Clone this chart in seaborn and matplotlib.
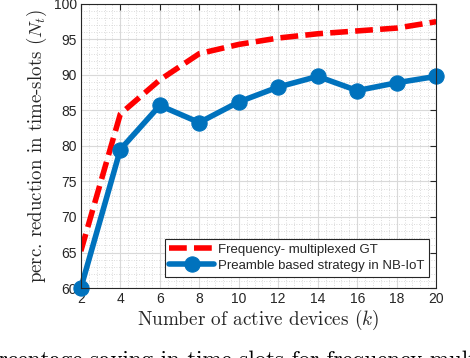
import numpy as np
import pandas as pd
import matplotlib
matplotlib.use("Agg")
import matplotlib.pyplot as plt
from matplotlib.ticker import MultipleLocator
import seaborn as sns

# values
devices = [2, 4, 6, 8, 10, 12, 14, 16, 18, 20]
freq_gt = [65.2, 84.5, 89.3, 93.0, 94.3, 95.2, 95.8, 96.2, 96.6, 97.5]
preamble = [60.0, 79.5, 85.7, 83.3, 86.2, 88.3, 89.8, 87.8, 88.9, 89.8]
series_names = ["Frequency- multiplexed GT", "Preamble based strategy in NB-IoT"]

df = pd.DataFrame({
    "k": devices * 2,
    "value": freq_gt + preamble,
    "series": [series_names[0]] * len(devices) + [series_names[1]] * len(devices),
})

sns.set_style("white")
plt.rcParams["font.family"] = ["Liberation Sans", "DejaVu Sans"]
plt.rcParams["mathtext.fontset"] = "cm"

red = "#ff0000"
blue = "#0072bd"
dark = "#262626"

fig = plt.figure(figsize=(4.7, 3.58), dpi=100)
ax = fig.add_axes([0.172, 0.1955, 0.756, 0.7935])

sns.lineplot(data=df[df.series == series_names[0]], x="k", y="value", ax=ax,
             color=red, linewidth=4, dashes=False, label=series_names[0])
ax.lines[-1].set_dashes([3.2, 1.3])
sns.lineplot(data=df[df.series == series_names[1]], x="k", y="value", ax=ax,
             color=blue, linewidth=4, marker="o", markersize=11,
             markeredgecolor=blue, label=series_names[1], clip_on=False)

ax.set_xlim(2, 20)
ax.set_ylim(60, 100)
ax.set_xticks(devices)
ax.set_yticks(np.arange(60, 101, 5))
ax.xaxis.set_minor_locator(MultipleLocator(0.4))
ax.yaxis.set_minor_locator(MultipleLocator(1))
ax.grid(which="major", color="#d9d9d9", linewidth=0.8, linestyle="-")
ax.grid(which="minor", color="#d0d0d0", linewidth=0.6, linestyle=(0, (1, 2)))
ax.set_axisbelow(True)
ax.tick_params(which="major", direction="in", top=True, right=True,
               length=4, width=0.8, colors=dark, labelsize=10, pad=3)
ax.tick_params(which="minor", length=0)
for sp in ax.spines.values():
    sp.set_color(dark)
    sp.set_linewidth(0.8)

serif = ["cmr10", "DejaVu Serif"]
ax.set_xlabel("Number of active devices $(k)$", family=serif, fontsize=13.8, color=dark, labelpad=1)
ax.set_ylabel("perc. reduction in time-slots $(N_t)$", family=serif, fontsize=13.6, color=dark, labelpad=3)

leg = ax.legend(loc="lower right", bbox_to_anchor=(0.98, 0.04), fontsize=9.5,
                frameon=True, fancybox=False, framealpha=1, edgecolor=dark,
                handlelength=3.4, borderpad=0.35, labelspacing=0.3, handletextpad=0.3,
                borderaxespad=0)
leg.get_frame().set_linewidth(0.8)

# figure caption, cut off by the page crop as in the reference
fig.text(-0.058, 0.022, "Percentage saving in time-slots for frequency multiplexed",
         family=serif, fontsize=16.5, color="black", ha="left", va="top")

fig.savefig("out.png", dpi=100)
